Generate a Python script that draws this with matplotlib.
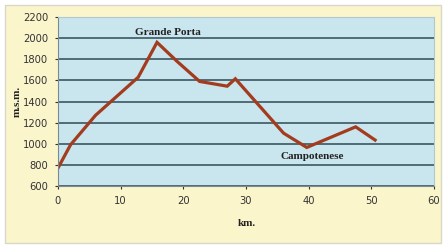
import matplotlib.pyplot as plt
from matplotlib.patches import Rectangle

km = [0, 2, 6, 12.8, 15.8, 19, 22.6, 27, 28.3, 36, 39.7, 47.5, 50.6]
quota = [770, 990, 1270, 1630, 1960, 1780, 1590, 1545, 1615, 1100, 965, 1160, 1035]

serif = ['Liberation Serif', 'DejaVu Serif']

fig = plt.figure(figsize=(4.46, 2.48), dpi=100)
fig.patch.set_facecolor('white')
fig.patches.append(Rectangle((0.012, 0.02), 0.976, 0.96, transform=fig.transFigure,
                             facecolor='#fbf5cc', edgecolor='#d8d8c8', linewidth=1, zorder=-10))

ax = fig.add_axes([58/446, 1 - 186/248, (434 - 58)/446, (186 - 17)/248])
ax.set_facecolor('#c9e5ee')
ax.plot(km, quota, color='#a33c1e', linewidth=2.3, solid_joinstyle='miter')

ax.set_xlim(0, 60)
ax.set_ylim(600, 2200)
ax.set_xticks(range(0, 61, 10))
ax.set_yticks(range(600, 2201, 200))
ax.yaxis.grid(True, color='#2f4a55', linewidth=1.1)
ax.set_axisbelow(True)
for s in ['top', 'right']:
    ax.spines[s].set_color('#b0c8d0')
for s in ['left', 'bottom']:
    ax.spines[s].set_color('#7a8a90')
ax.tick_params(labelsize=8, colors='#333333', length=2, pad=5)
for lab in ax.get_xticklabels() + ax.get_yticklabels():
    lab.set_stretch('condensed')

ax.set_xlabel('km.', fontsize=8, fontweight='bold', color='#222222', family=serif)
ax.set_ylabel('m.s.m.', fontsize=8, fontweight='bold', color='#222222', family=serif)
ax.xaxis.set_label_coords(0.503, -0.195)
ax.yaxis.set_label_coords(-0.096, 0.5)

ax.text(17.5, 2010, 'Grande Porta', fontsize=8, fontweight='bold', ha='center', va='bottom',
        color='#222222', family=serif)
ax.text(40.5, 880, 'Campotenese', fontsize=8, fontweight='bold', ha='center', va='center',
        color='#222222', family=serif)

fig.savefig('out.png', dpi=100)
